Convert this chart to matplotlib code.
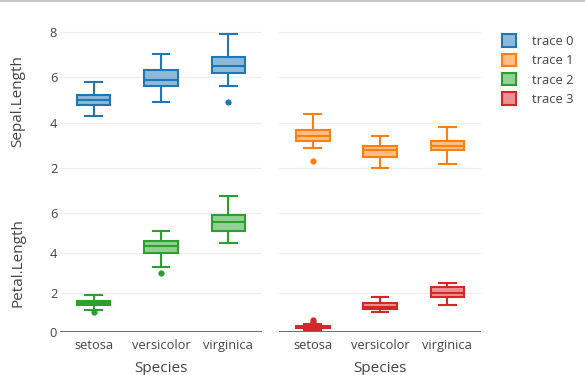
import matplotlib
matplotlib.use('Agg')
import matplotlib.pyplot as plt
from matplotlib.colors import to_rgba
from matplotlib.patches import Patch
from matplotlib.lines import Line2D

species = ['setosa', 'versicolor', 'virginica']
trace_names = ['trace 0', 'trace 1', 'trace 2', 'trace 3']
colors = ['#1f77b4', '#ff7f0e', '#2ca02c', '#d62728']

# [whisker low, q1, median, q3, whisker high] per species
sepal_length = [[4.3, 4.8, 5.0, 5.2, 5.8], [4.9, 5.6, 5.9, 6.3, 7.0], [5.6, 6.2, 6.5, 6.9, 7.9]]
sepal_length_out = [[], [], [4.9]]
sepal_width = [[2.9, 3.2, 3.4, 3.7, 4.4], [2.0, 2.5, 2.8, 3.0, 3.4], [2.2, 2.8, 3.0, 3.2, 3.8]]
sepal_width_out = [[2.3], [], []]
petal_length = [[1.1, 1.4, 1.5, 1.6, 1.9], [3.3, 4.0, 4.35, 4.6, 5.1], [4.5, 5.1, 5.55, 5.9, 6.9]]
petal_length_out = [[1.0], [3.0], []]
petal_width = [[0.1, 0.2, 0.2, 0.3, 0.4], [1.0, 1.2, 1.3, 1.5, 1.8], [1.4, 1.8, 2.0, 2.3, 2.5]]
petal_width_out = [[0.5, 0.6], [], []]

plt.rcParams['font.family'] = ['Open Sans', 'DejaVu Sans']
txt = '#444444'
W, H = 585, 375

fig = plt.figure(figsize=(W / 100, H / 100), dpi=100)

def px_rect(x0, x1, y0, y1):
    return [x0 / W, 1 - y1 / H, (x1 - x0) / W, (y1 - y0) / H]

panels = [
    (sepal_length, sepal_length_out, 0, px_rect(60, 262, 27, 173), (1.794, 8.206), [2, 4, 6, 8], True, False),
    (sepal_width, sepal_width_out, 1, px_rect(279, 481, 27, 173), (1.794, 8.206), [2, 4, 6, 8], False, False),
    (petal_length, petal_length_out, 2, px_rect(60, 262, 187, 332.3), (0, 7.33), [0, 2, 4, 6], True, True),
    (petal_width, petal_width_out, 3, px_rect(279, 481, 187, 332.3), (0, 7.33), [0, 2, 4, 6], False, True),
]

for vals, outs, i, rect, ylim, yt, show_y, bottom in panels:
    ax = fig.add_axes(rect)
    c = colors[i]
    stats = []
    for v, o, name in zip(vals, outs, species):
        stats.append({'whislo': v[0], 'q1': v[1], 'med': v[2], 'q3': v[3], 'whishi': v[4],
                      'fliers': o, 'label': name})
    ax.bxp(stats, positions=[0, 1, 2], widths=0.5, capwidths=0.25, patch_artist=True,
           boxprops=dict(facecolor=to_rgba(c, 0.5), edgecolor=c, linewidth=1.5),
           medianprops=dict(color=c, linewidth=1.5),
           whiskerprops=dict(color=c, linewidth=1.5),
           capprops=dict(color=c, linewidth=1.5),
           flierprops=dict(marker='o', markersize=4.5, markerfacecolor=c, markeredgecolor='none'),
           zorder=3)
    ax.set_xlim(-0.5, 2.5)
    ax.set_ylim(*ylim)
    ax.set_yticks(yt)
    for s in ax.spines.values():
        s.set_visible(False)
    ax.grid(axis='y', color='#eeeeee', linewidth=0.9, zorder=0)
    ax.set_axisbelow(True)
    ax.tick_params(length=0, labelsize=9.3, labelcolor=txt, pad=2)
    if not show_y:
        ax.tick_params(labelleft=False)
    if bottom:
        ax.axhline(0, color=txt, linewidth=1.1, zorder=2)
        ax.set_xticks([0, 1, 2])
        ax.set_xticklabels(species)
        ax.tick_params(axis='x', pad=5)
    else:
        ax.set_xticks([])

fig.text(18 / W, 1 - 101 / H, 'Sepal.Length', rotation=90, ha='center', va='center', fontsize=11, color=txt)
fig.text(18 / W, 1 - 263 / H, 'Petal.Length', rotation=90, ha='center', va='center', fontsize=11, color=txt)
fig.text(161 / W, 1 - 371.5 / H, 'Species', ha='center', va='baseline', fontsize=11, color=txt)
fig.text(380 / W, 1 - 371.5 / H, 'Species', ha='center', va='baseline', fontsize=11, color=txt)

handles = [Patch(facecolor=to_rgba(c, 0.5), edgecolor=c, linewidth=1.5) for c in colors]
fig.legend(handles, trace_names, loc='upper left', bbox_to_anchor=(497 / W, 1 - 29 / H),
           frameon=False, fontsize=9.3, labelcolor=txt, handlelength=1.1, handleheight=1.1,
           labelspacing=0.45, handletextpad=1.2, borderaxespad=0)

fig.add_artist(Line2D([0, 1], [1 - 0.6 / H, 1 - 0.6 / H], color='#bbbbbb', linewidth=1.2))

fig.savefig('out.png', dpi=100)
